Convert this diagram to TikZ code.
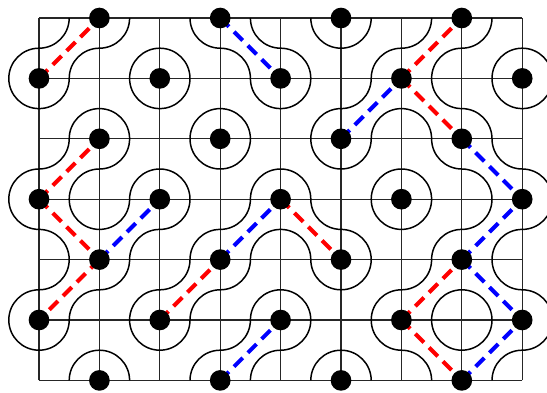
\documentclass[tikz,border=0pt]{standalone}
\pgfdeclarelayer{bg}
\pgfdeclarelayer{links}
\pgfsetlayers{bg,links,main}
\begin{document}
\begin{tikzpicture}[
  gridline/.style={line width=0.6pt, black!85},
  loopline/.style={line width=0.7pt, black},
  dot/.style={circle, fill=black, draw=none, inner sep=0pt, minimum size=0.342cm},
  redlink/.style={red, line width=1.9pt, dash pattern=on 5.8pt off 3.4pt},
  bluelink/.style={blue, line width=1.9pt, dash pattern=on 5.8pt off 3.4pt}
]
\useasboundingbox (-0.6457,-0.192) rectangle (8.4106,6.298);

\begin{pgfonlayer}{bg}
  \draw[gridline] (0,0) grid (8,6);
  % 1: arcs around top-left and bottom-right corners; 0: around top-right and bottom-left
  \foreach \j/\types in {0/{1,1,0,0,0,1,1,1},
                         1/{1,0,1,0,1,1,0,0},
                         2/{1,1,0,1,0,1,0,0},
                         3/{0,1,1,1,0,0,1,1},
                         4/{1,1,1,1,0,1,1,0},
                         5/{1,0,1,1,1,0,0,1}}{
    \foreach \t [count=\i from 0] in \types {
      \ifnum\t=1
        \draw[loopline] (\i+0.5,6-\j) arc[start angle=0,end angle=-90,radius=0.5];
        \draw[loopline] (\i+0.5,5-\j) arc[start angle=180,end angle=90,radius=0.5];
      \else
        \draw[loopline] (\i+0.5,6-\j) arc[start angle=180,end angle=270,radius=0.5];
        \draw[loopline] (\i+0.5,5-\j) arc[start angle=0,end angle=90,radius=0.5];
      \fi
    }
  }
  \foreach \y in {1,3,5}{
    \draw[loopline] (0,\y+0.5) arc[start angle=90,end angle=270,radius=0.5];
    \draw[loopline] (8,\y-0.5) arc[start angle=-90,end angle=90,radius=0.5];
  }
\end{pgfonlayer}

\foreach \i in {0,...,8}{
  \foreach \j in {0,...,6}{
    \pgfmathtruncatemacro{\s}{\i+\j}
    \ifodd\s \node[dot] (d\i-\j) at (\i,6-\j) {}; \fi
  }
}

\begin{pgfonlayer}{links}
  \draw[redlink] (d0-1.center) -- (d1-0.center);
  \draw[redlink] (d6-1.center) -- (d7-0.center);
  \draw[redlink] (d6-1.center) -- (d7-2.center);
  \draw[redlink] (d0-3.center) -- (d1-2.center);
  \draw[redlink] (d0-3.center) -- (d1-4.center);
  \draw[redlink] (d1-4.center) -- (d0-5.center);
  \draw[redlink] (d4-3.center) -- (d5-4.center);
  \draw[redlink] (d2-5.center) -- (d3-4.center);
  \draw[redlink] (d6-5.center) -- (d7-4.center);
  \draw[redlink] (d6-5.center) -- (d7-6.center);
  \draw[bluelink] (d3-0.center) -- (d4-1.center);
  \draw[bluelink] (d5-2.center) -- (d6-1.center);
  \draw[bluelink] (d7-2.center) -- (d8-3.center);
  \draw[bluelink] (d1-4.center) -- (d2-3.center);
  \draw[bluelink] (d3-4.center) -- (d4-3.center);
  \draw[bluelink] (d7-4.center) -- (d8-3.center);
  \draw[bluelink] (d3-6.center) -- (d4-5.center);
  \draw[bluelink] (d7-4.center) -- (d8-5.center);
  \draw[bluelink] (d7-6.center) -- (d8-5.center);
\end{pgfonlayer}
\end{tikzpicture}
\end{document}
